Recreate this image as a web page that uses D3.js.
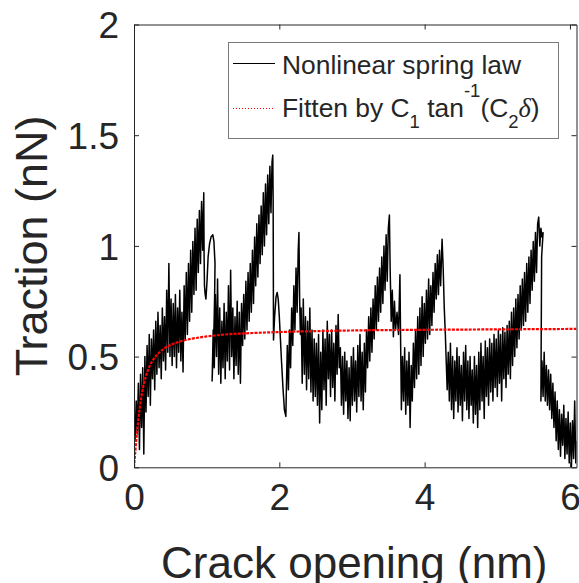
<!DOCTYPE html>
<html>
<head>
<meta charset="utf-8">
<script src="https://cdn.jsdelivr.net/npm/d3@7/dist/d3.min.js"></script>
<style>
  html, body { margin: 0; padding: 0; background: #fff; }
  svg { display: block; }
  text { font-family: "Liberation Sans", Arial, Helvetica, sans-serif; fill: #262626; }
</style>
</head>
<body>
<svg id="chart" width="579" height="583"></svg>
<script>
// Traction vs. crack opening: [opening (nm), traction (nN)] sampled along the loading path
const springTrace = [
  [0.000,0.22],[0.015,0.12],[0.030,0.30],[0.045,0.15],[0.060,0.38],[0.075,0.08],[0.090,0.42],[0.105,0.18],[0.120,0.45],[0.135,0.06],
  [0.150,0.50],[0.165,0.25],[0.180,0.55],[0.195,0.32],[0.210,0.60],[0.225,0.28],[0.240,0.58],[0.255,0.40],[0.270,0.62],[0.285,0.35],
  [0.300,0.66],[0.315,0.42],[0.330,0.70],[0.345,0.45],[0.360,0.64],[0.375,0.40],[0.390,0.72],[0.405,0.48],[0.420,0.68],[0.435,0.44],
  [0.450,0.80],[0.465,0.52],[0.480,0.92],[0.495,0.50],[0.510,0.76],[0.525,0.46],[0.540,0.74],[0.555,0.50],[0.570,0.78],[0.585,0.45],
  [0.600,0.72],[0.615,0.52],[0.630,0.80],[0.645,0.48],[0.660,0.70],[0.675,0.43],[0.690,0.82],[0.705,0.58],[0.720,0.88],[0.735,0.60],
  [0.750,0.92],[0.765,0.66],[0.780,0.98],[0.795,0.70],[0.810,1.02],[0.825,0.78],[0.840,1.08],[0.855,0.80],[0.870,1.12],[0.885,0.88],
  [0.900,1.16],[0.915,0.92],[0.930,1.20],[0.945,0.98],[0.960,1.24],
  // unloading loop after the first peak
  [0.965,0.95],[0.970,0.82],[0.980,0.78],[0.990,0.76],[1.005,0.84],[1.020,0.95],[1.040,1.01],[1.060,1.04],[1.085,1.05],[1.100,1.02],
  [1.115,0.92],[1.110,0.78],[1.100,0.62],[1.085,0.48],[1.075,0.39],
  [1.090,0.62],[1.105,0.45],[1.120,0.78],[1.135,0.50],[1.150,0.85],[1.165,0.42],[1.180,0.72],[1.195,0.38],[1.210,0.66],[1.225,0.45],
  [1.240,0.74],[1.255,0.40],[1.270,0.70],[1.285,0.48],[1.300,0.82],[1.315,0.44],[1.330,0.89],[1.345,0.50],[1.360,0.72],[1.375,0.40],
  [1.390,0.68],[1.405,0.46],[1.420,0.75],[1.435,0.42],[1.450,0.70],[1.465,0.38],[1.480,0.74],[1.495,0.55],[1.510,0.78],[1.525,0.58],
  [1.540,0.84],[1.555,0.62],[1.570,0.88],[1.585,0.66],[1.600,0.92],[1.615,0.70],[1.630,0.98],[1.645,0.74],[1.660,1.04],[1.675,0.82],
  [1.690,1.10],[1.705,0.86],[1.720,1.14],[1.735,0.92],[1.750,1.18],[1.765,0.96],[1.780,1.24],[1.795,1.00],[1.810,1.28],[1.825,1.05],
  [1.840,1.32],[1.855,1.10],[1.870,1.36],[1.885,1.15],[1.900,1.38],[1.910,1.41],[1.915,1.20],[1.920,0.575],
  // rebound hump and second rise
  [1.935,0.68],[1.955,0.77],[1.970,0.79],[1.985,0.76],[2.000,0.68],[2.015,0.58],[2.030,0.48],[2.050,0.36],[2.070,0.26],[2.090,0.23],
  [2.100,0.40],[2.110,0.55],[2.125,0.35],[2.140,0.62],[2.155,0.45],[2.170,0.72],[2.185,0.55],[2.200,0.82],[2.215,0.62],[2.230,0.90],
  [2.245,0.70],[2.260,0.98],[2.270,1.06],[2.280,0.75],[2.290,0.60],[2.300,0.72],[2.315,0.38],[2.330,0.76],[2.345,0.42],[2.360,0.68],
  [2.375,0.35],[2.390,0.66],[2.405,0.40],[2.420,0.72],[2.435,0.34],[2.450,0.62],[2.465,0.30],[2.480,0.58],[2.495,0.32],[2.510,0.56],
  [2.525,0.28],[2.540,0.60],[2.555,0.20],[2.570,0.52],[2.585,0.26],[2.600,0.62],[2.615,0.35],[2.630,0.58],[2.645,0.28],[2.660,0.66],
  [2.675,0.40],[2.690,0.60],[2.705,0.32],[2.720,0.62],[2.735,0.36],[2.750,0.56],[2.765,0.30],[2.780,0.64],[2.795,0.42],[2.810,0.69],
  [2.825,0.45],[2.840,0.54],[2.855,0.28],[2.870,0.50],[2.885,0.24],[2.900,0.52],[2.915,0.30],[2.930,0.48],[2.945,0.22],[2.960,0.45],
  [2.975,0.21],[2.990,0.50],[3.005,0.28],[3.020,0.54],[3.035,0.30],[3.050,0.48],[3.065,0.25],[3.080,0.55],[3.095,0.32],[3.110,0.60],
  [3.125,0.30],[3.140,0.52],[3.155,0.26],[3.170,0.56],[3.185,0.34],[3.200,0.62],[3.215,0.45],[3.230,0.68],[3.245,0.48],[3.260,0.72],
  [3.275,0.52],[3.290,0.76],[3.305,0.58],[3.320,0.82],[3.335,0.62],[3.350,0.86],[3.365,0.66],[3.380,0.90],[3.395,0.70],[3.410,0.95],
  [3.425,0.74],[3.440,1.00],[3.455,0.80],[3.470,1.05],[3.485,0.84],[3.500,1.08],[3.515,1.14],[3.525,0.90],[3.540,0.66],[3.555,0.80],
  [3.570,0.59],[3.585,0.75],[3.600,0.62],[3.620,0.70],[3.640,0.60],[3.660,0.87],[3.670,0.55],[3.680,0.26],[3.695,0.50],[3.710,0.30],
  [3.725,0.54],[3.740,0.24],[3.755,0.48],[3.770,0.28],[3.785,0.52],[3.800,0.18],[3.815,0.46],[3.830,0.30],[3.845,0.56],[3.860,0.36],
  [3.875,0.62],[3.890,0.40],[3.905,0.68],[3.920,0.42],[3.935,0.72],[3.950,0.46],[3.965,0.77],[3.980,0.50],[3.995,0.74],[4.010,0.56],
  [4.025,0.80],[4.040,0.58],[4.055,0.85],[4.070,0.60],[4.085,0.82],[4.100,0.64],[4.115,0.88],[4.130,0.70],[4.145,0.92],[4.160,0.76],
  [4.175,0.96],[4.190,0.78],[4.205,0.98],[4.220,0.82],[4.240,1.03],[4.255,0.90],[4.270,0.72],[4.285,0.60],[4.300,0.45],[4.310,0.35],
  [4.325,0.52],[4.340,0.30],[4.355,0.56],[4.370,0.26],[4.385,0.50],[4.400,0.22],[4.415,0.48],[4.430,0.30],[4.445,0.54],[4.460,0.25],
  [4.475,0.50],[4.490,0.28],[4.505,0.46],[4.520,0.21],[4.535,0.52],[4.550,0.30],[4.565,0.55],[4.580,0.26],[4.595,0.48],[4.610,0.22],
  [4.625,0.50],[4.640,0.28],[4.655,0.44],[4.670,0.20],[4.685,0.50],[4.700,0.24],[4.715,0.46],[4.730,0.18],[4.745,0.52],[4.760,0.26],
  [4.775,0.56],[4.790,0.30],[4.805,0.50],[4.820,0.22],[4.835,0.57],[4.850,0.32],[4.865,0.54],[4.880,0.28],[4.895,0.58],[4.910,0.34],
  [4.925,0.56],[4.940,0.30],[4.955,0.60],[4.970,0.36],[4.985,0.58],[5.000,0.32],[5.015,0.62],[5.030,0.38],[5.045,0.60],[5.060,0.30],
  [5.075,0.63],[5.090,0.40],[5.105,0.61],[5.120,0.36],[5.135,0.64],[5.150,0.42],[5.165,0.66],[5.180,0.40],[5.195,0.70],[5.210,0.46],
  [5.225,0.72],[5.240,0.50],[5.255,0.76],[5.270,0.54],[5.285,0.78],[5.300,0.58],[5.315,0.82],[5.330,0.62],[5.345,0.85],[5.360,0.64],
  [5.375,0.88],[5.390,0.66],[5.405,0.92],[5.420,0.70],[5.435,0.95],[5.450,0.74],[5.465,0.98],[5.480,0.80],[5.495,1.02],[5.510,0.84],
  [5.525,1.06],[5.540,0.88],[5.555,1.10],[5.570,1.13],[5.585,1.00],[5.600,1.08],[5.615,1.04],[5.630,1.06],[5.610,0.95],[5.600,0.30],
  // final softening towards separation
  [5.615,0.48],[5.630,0.32],[5.645,0.52],[5.660,0.30],[5.675,0.46],[5.690,0.28],[5.705,0.44],[5.720,0.26],[5.735,0.42],[5.750,0.22],
  [5.765,0.38],[5.780,0.18],[5.795,0.34],[5.810,0.12],[5.825,0.30],[5.840,0.08],[5.855,0.26],[5.870,0.05],[5.885,0.24],[5.900,0.10],
  [5.915,0.28],[5.930,0.04],[5.945,0.22],[5.960,0.06],[5.975,0.25],[5.990,0.02],[6.005,0.20],[6.020,0.00],[6.035,0.21],[6.050,0.04],
  [6.065,0.30],[6.080,0.02],[6.090,0.12]
];

// Fitted curve C1·tan⁻¹(C2·δ): [opening (nm), traction (nN)]
const fitCurve = [
  [0.00,0.000],[0.01,0.040],[0.02,0.079],[0.04,0.153],[0.06,0.217],[0.08,0.271],[0.10,0.316],[0.13,0.368],
  [0.16,0.407],[0.20,0.445],[0.25,0.479],[0.30,0.502],[0.40,0.533],[0.50,0.552],[0.60,0.565],[0.80,0.581],
  [1.00,0.591],[1.30,0.601],[1.60,0.606],[2.00,0.611],[2.50,0.615],[3.00,0.618],[4.00,0.621],[5.00,0.623],[6.09,0.625]
];

const xTicks = [0, 2, 4, 6];
const yTicks = [0, 0.5, 1, 1.5, 2];
const xDomain = [0, 6.09];
const yDomain = [0, 2];

const legendLabels = ["Nonlinear spring law", "Fitten by C"];

const svg = d3.select("#chart");
const plot = { left: 134, right: 576.5, top: 24.5, bottom: 467.3 };

const x = d3.scaleLinear().domain(xDomain).range([plot.left, plot.right]);
const y = d3.scaleLinear().domain(yDomain).range([plot.bottom, plot.top]);

svg.append("rect").attr("width", 579).attr("height", 583).attr("fill", "#fff");

svg.append("defs").append("clipPath").attr("id", "plotClip")
  .append("rect")
  .attr("x", plot.left).attr("y", plot.top)
  .attr("width", plot.right - plot.left).attr("height", plot.bottom - plot.top);

const line = d3.line().x(d => x(d[0])).y(d => y(d[1]));

const data = svg.append("g").attr("clip-path", "url(#plotClip)");

data.append("path")
  .datum(springTrace)
  .attr("d", line)
  .attr("fill", "none")
  .attr("stroke", "#000")
  .attr("stroke-width", 1.5)
  .attr("stroke-linejoin", "round");

data.append("path")
  .datum(fitCurve)
  .attr("d", line.curve(d3.curveMonotoneX))
  .attr("fill", "none")
  .attr("stroke", "#ff0000")
  .attr("stroke-width", 2.2)
  .attr("stroke-dasharray", "3,1.2");

// Axes: ticks inside on all four sides, box outline
const tickLen = 5;
const axisColor = "#262626";

const bottomAxis = d3.axisBottom(x).tickValues(xTicks).tickSize(-tickLen).tickSizeOuter(0).tickFormat(d3.format("d"));
const topAxis = d3.axisTop(x).tickValues(xTicks).tickSize(-tickLen).tickSizeOuter(0).tickFormat("");
const leftAxis = d3.axisLeft(y).tickValues(yTicks).tickSize(-tickLen).tickSizeOuter(0).tickFormat(d => d3.format("~g")(d));
const rightAxis = d3.axisRight(y).tickValues(yTicks).tickSize(-tickLen).tickSizeOuter(0).tickFormat("");

function styleAxis(g) {
  g.select(".domain").attr("stroke", axisColor).attr("stroke-width", 1);
  g.selectAll(".tick line").attr("stroke", axisColor).attr("stroke-width", 1);
  g.selectAll(".tick text")
    .attr("fill", axisColor)
    .style("font-family", '"Liberation Sans", Arial, Helvetica, sans-serif')
    .style("font-size", "37px");
}

svg.append("g").attr("transform", `translate(0,${plot.bottom})`).call(bottomAxis).call(styleAxis)
  .selectAll(".tick text").attr("y", 16.5).attr("dy", "0.71em");
svg.append("g").attr("transform", `translate(0,${plot.top})`).call(topAxis).call(styleAxis);
svg.append("g").attr("transform", `translate(${plot.left},0)`).call(leftAxis).call(styleAxis)
  .selectAll(".tick text").attr("x", -15).attr("dy", "0.36em");
svg.append("g").attr("transform", `translate(${plot.right},0)`).call(rightAxis).call(styleAxis);

svg.selectAll(".domain").attr("fill", "none");

// Axis titles
svg.append("text")
  .attr("x", (plot.left + plot.right) / 2 - 1)
  .attr("y", 578)
  .attr("text-anchor", "middle")
  .style("font-size", "44px")
  .text("Crack opening (nm)");

svg.append("text")
  .attr("transform", `translate(47,${(plot.top + plot.bottom) / 2}) rotate(-90)`)
  .attr("text-anchor", "middle")
  .style("font-size", "45px")
  .text("Traction (nN)");

// Legend
const legend = svg.append("g");
legend.append("rect")
  .attr("x", 228.5).attr("y", 42.5)
  .attr("width", 330).attr("height", 96)
  .attr("fill", "#fff")
  .attr("stroke", "#7a7a7a")
  .attr("stroke-width", 1);

legend.append("line")
  .attr("x1", 233).attr("x2", 275).attr("y1", 63.5).attr("y2", 63.5)
  .attr("stroke", "#000").attr("stroke-width", 1);
legend.append("line")
  .attr("x1", 233).attr("x2", 275).attr("y1", 108.5).attr("y2", 108.5)
  .attr("stroke", "#ff0000").attr("stroke-width", 1).attr("stroke-dasharray", "1,2");

legend.append("text")
  .attr("x", 282).attr("y", 74)
  .style("font-size", "26.4px")
  .text(legendLabels[0]);

const fitText = legend.append("text")
  .attr("x", 282).attr("y", 117)
  .style("font-size", "26.4px");
fitText.append("tspan").text(legendLabels[1]);
fitText.append("tspan").attr("dy", 11).style("font-size", "18.5px").text("1");
fitText.append("tspan").attr("dy", -11).text(" tan");
fitText.append("tspan").attr("dy", -20.5).style("font-size", "18.5px").text("-1");
fitText.append("tspan").attr("dy", 20.5).text("(C");
fitText.append("tspan").attr("dy", 11).style("font-size", "18.5px").text("2");
fitText.append("tspan").attr("dy", -11).style("font-family", '"Liberation Serif", "Times New Roman", serif').style("font-style", "italic").text("δ");
fitText.append("tspan").text(")");
</script>
</body>
</html>
